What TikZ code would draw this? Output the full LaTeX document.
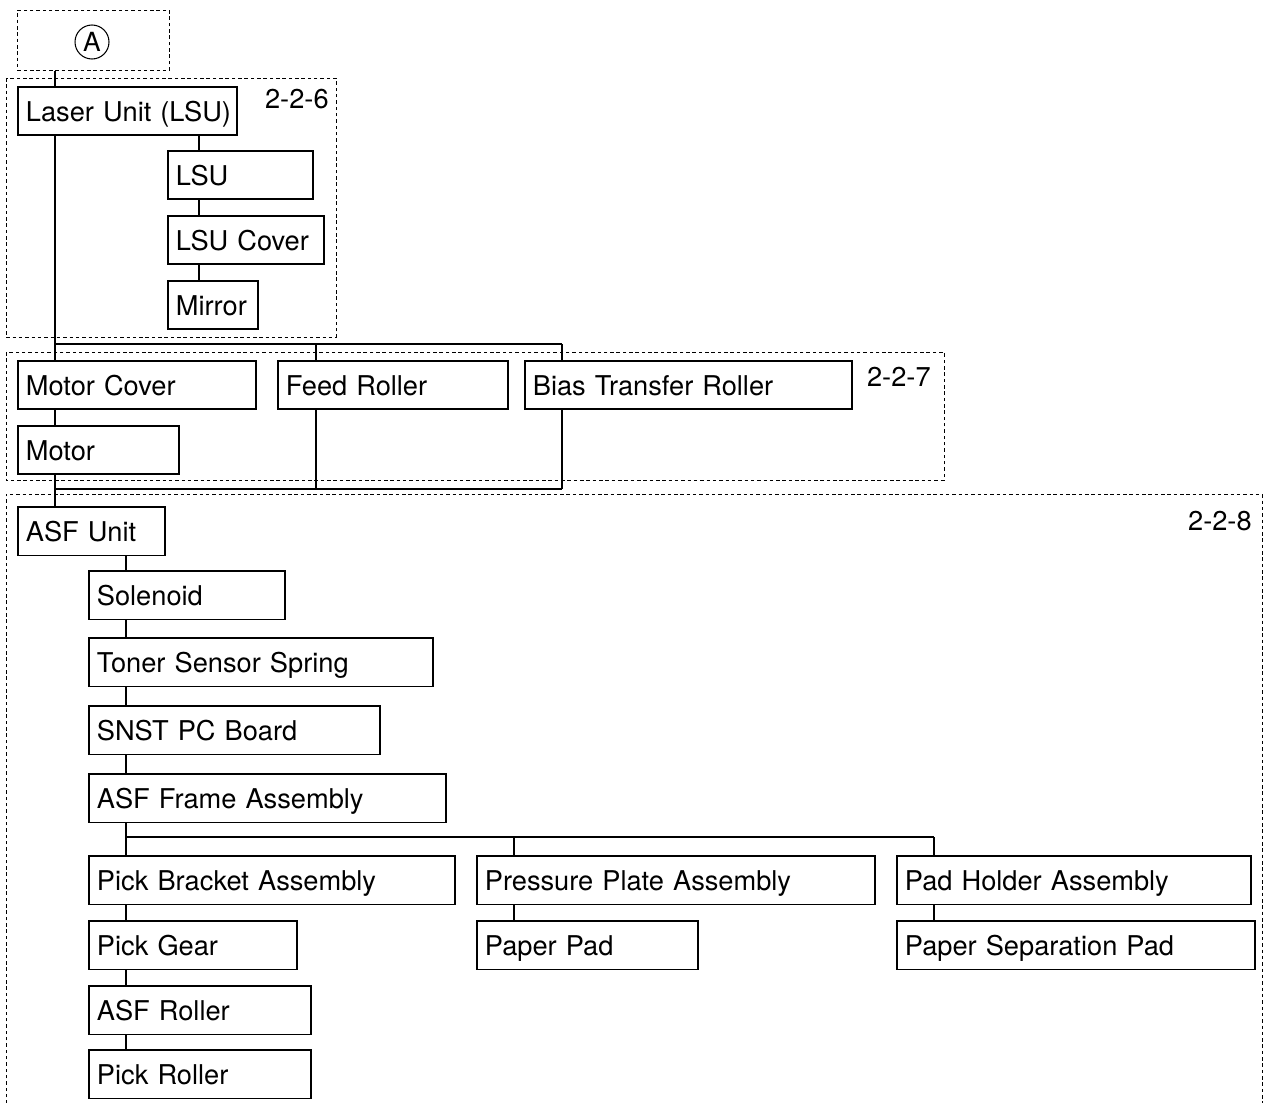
\documentclass[tikz,border=0pt]{standalone}
\usepackage{fontspec}
\setmainfont{TeX Gyre Heros}
\usepackage{tikz}
\usetikzlibrary{positioning}

\begin{document}
\begin{tikzpicture}[
    x=0.02cm, y=-0.02cm,
    part/.style={draw, line width=1pt, anchor=north west, minimum height=0.97cm, inner xsep=0.16cm, inner ysep=0pt, text height=0.44cm, text depth=0.03cm, align=left, font=\fontsize{15.5}{18}\selectfont},
    grp/.style={draw, line width=0.5pt, dash pattern=on 2pt off 1.6pt},
    grplabel/.style={anchor=north east, inner sep=0pt, font=\fontsize{15.5}{18}\selectfont},
    link/.style={line width=0.8pt}
]
\useasboundingbox (0,0) rectangle (1266,1102);

% Trunk positions
\coordinate (tk) at (55,0);
\coordinate (xl) at (199,0);
\coordinate (xf) at (316,0);
\coordinate (xb) at (562,0);
\coordinate (xa) at (126,0);
\coordinate (xp) at (514,0);
\coordinate (xh) at (934,0);
\coordinate (bartop) at (0,344);
\coordinate (barlow) at (0,489);
\coordinate (barasf) at (0,837);

% Entry A
\node[grp, anchor=north west, minimum width=3.04cm, minimum height=1.2cm] (abox) at (17,10) {};
\node[draw, circle, line width=0.6pt, minimum size=0.68cm, inner sep=0pt, font=\fontsize{15}{17}\selectfont] (circA) at (92,42) {A};

% Group 2-2-6
\draw[grp] (6,78) rectangle (336,337);
\node[grplabel] (g226) at (329,89) {2-2-6};
\node[part, text width=4.06cm] (lsuunit) at (17,86) {\mbox{Laser Unit (LSU)}};
\node[part, text width=2.58cm] (lsu) at (167,150) {LSU};
\node[part, text width=2.80cm] (lsucover) at (167,215) {LSU Cover};
\node[part, text width=1.48cm] (mirror) at (167,280) {Mirror};

% Group 2-2-7
\draw[grp] (6,352) rectangle (944,480);
\node[grplabel] (g227) at (931,367) {2-2-7};
\node[part, text width=4.44cm] (motorcover) at (17,360) {Motor Cover};
\node[part, text width=4.28cm] (feed) at (277,360) {Feed Roller};
\node[part, text width=6.22cm] (bias) at (524,360) {Bias Transfer Roller};
\node[part, text width=2.90cm] (motor) at (17,425) {Motor};

% Group 2-2-8
\draw[grp] (6,1110) -- (6,494) -- (1262,494) -- (1262,1110);
\node[grplabel] (g228) at (1252,511) {2-2-8};
\node[part, text width=2.62cm] (asf) at (17,506) {ASF Unit};
\node[part, text width=3.60cm] (solenoid) at (88,570) {Solenoid};
\node[part, text width=6.56cm] (toner) at (88,637) {Toner Sensor Spring};
\node[part, text width=5.50cm] (snst) at (88,705) {SNST PC Board};
\node[part, text width=6.82cm] (frame) at (88,773) {ASF Frame Assembly};
\node[part, text width=7.00cm] (bracket) at (88,855) {Pick Bracket Assembly};
\node[part, text width=7.64cm] (pressure) at (476,855) {Pressure Plate Assembly};
\node[part, text width=6.76cm] (padholder) at (896,855) {Pad Holder Assembly};
\node[part, text width=3.84cm] (pickgear) at (88,920) {Pick Gear};
\node[part, text width=4.10cm] (paperpad) at (476,920) {Paper Pad};
\node[part, text width=6.84cm] (sep) at (896,920) {Paper Separation Pad};
\node[part, text width=4.12cm] (asfroller) at (88,985) {ASF Roller};
\node[part, text width=4.12cm] (pickroller) at (88,1049) {Pick Roller};

% Connectors, upper part
\draw[link] (tk |- abox.south) -- (tk |- lsuunit.north);
\draw[link] (xl |- lsuunit.south) -- (xl |- lsu.north);
\draw[link] (xl |- lsu.south) -- (xl |- lsucover.north);
\draw[link] (xl |- lsucover.south) -- (xl |- mirror.north);
\draw[link] (tk |- lsuunit.south) -- (tk |- motorcover.north);
\draw[link] (tk |- bartop) -- (xb |- bartop);
\draw[link] (xf |- bartop) -- (xf |- feed.north);
\draw[link] (xb |- bartop) -- (xb |- bias.north);

% Connectors, motor part
\draw[link] (tk |- motorcover.south) -- (tk |- motor.north);
\draw[link] (tk |- motor.south) -- (tk |- asf.north);
\draw[link] (xf |- feed.south) -- (xf |- barlow);
\draw[link] (xb |- bias.south) -- (xb |- barlow);
\draw[link] (tk |- barlow) -- (xb |- barlow);

% Connectors, ASF part
\draw[link] (xa |- asf.south) -- (xa |- solenoid.north);
\draw[link] (xa |- solenoid.south) -- (xa |- toner.north);
\draw[link] (xa |- toner.south) -- (xa |- snst.north);
\draw[link] (xa |- snst.south) -- (xa |- frame.north);
\draw[link] (xa |- frame.south) -- (xa |- bracket.north);
\draw[link] (xa |- barasf) -- (xh |- barasf);
\draw[link] (xp |- barasf) -- (xp |- pressure.north);
\draw[link] (xh |- barasf) -- (xh |- padholder.north);
\draw[link] (xa |- bracket.south) -- (xa |- pickgear.north);
\draw[link] (xa |- pickgear.south) -- (xa |- asfroller.north);
\draw[link] (xa |- asfroller.south) -- (xa |- pickroller.north);
\draw[link] (xp |- pressure.south) -- (xp |- paperpad.north);
\draw[link] (xh |- padholder.south) -- (xh |- sep.north);

\end{tikzpicture}
\end{document}
